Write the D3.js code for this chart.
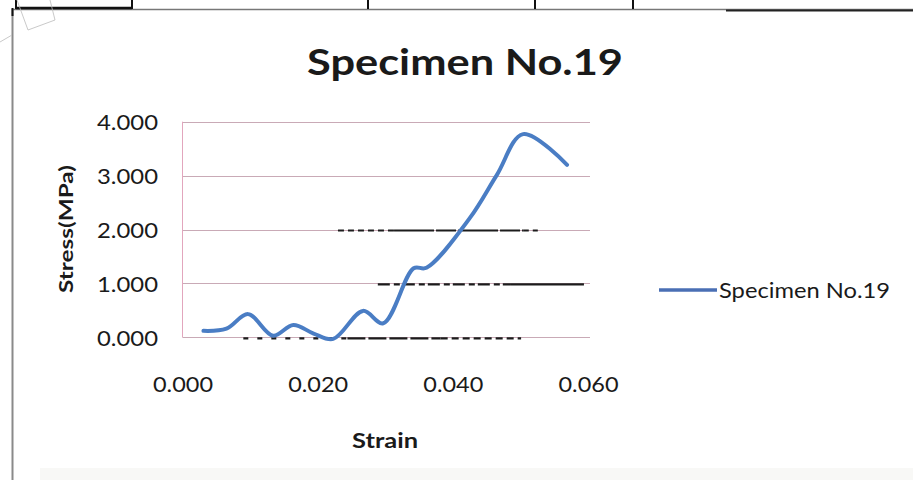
<!DOCTYPE html>
<html>
<head>
<meta charset="utf-8">
<title>Specimen No.19</title>
<script src="https://cdn.jsdelivr.net/npm/d3@7"></script>
<style>
  html, body { margin: 0; padding: 0; background: #fff; }
  svg { display: block; }
  text { font-family: Lato, "Open Sans", sans-serif; fill: #1a1a1a; }
</style>
</head>
<body>
<div id="chart"></div>
<script>
// Stress-strain curve
const strain = [0.0031, 0.0065, 0.0097, 0.0134, 0.0164, 0.0194, 0.0223, 0.0267, 0.0297, 0.0342, 0.0361, 0.0425, 0.0465, 0.0504, 0.0569];
const stress = [0.12, 0.16, 0.43, 0.03, 0.23, 0.07, -0.03, 0.49, 0.26, 1.28, 1.29, 2.21, 3.01, 3.77, 3.20];
const yTicks = [0, 1, 2, 3, 4];
const xTicks = [0, 0.02, 0.04, 0.06];
const seriesName = 'Specimen No.19';

// dark bleed-through streaks from the scan, [stress level, strain from, strain to, dash]
const scanStreaks = [
    [2, 0.0230, 0.0313, '6 4'], [2, 0.0313, 0.0505, '40 2 20 2'], [2, 0.0505, 0.0526, '5 4'],
    [1, 0.0289, 0.0486, '12 4 6 3'], [1, 0.0486, 0.0594, null],
    [0, 0.0090, 0.0244, '5 9'], [0, 0.0244, 0.0382, '18 3'], [0, 0.0382, 0.0501, '7 4']
];

const width = 913, height = 480;
const svg = d3.select('#chart').append('svg')
    .attr('width', width)
    .attr('height', height);

svg.append('rect').attr('width', width).attr('height', height).attr('fill', '#fff');

// page frame around the chart (table lines of the scanned page)
const frame = svg.append('g');
frame.append('rect').attr('x', 40).attr('y', 468).attr('width', 873).attr('height', 12).attr('fill', '#f8f8f6');
frame.append('line').attr('x1', 12).attr('x2', 913).attr('y1', 9.5).attr('y2', 9.5).attr('stroke', '#777').attr('stroke-width', 1.5);
frame.append('line').attr('x1', 16).attr('x2', 132).attr('y1', 8).attr('y2', 8).attr('stroke', '#111').attr('stroke-width', 2.5);
frame.append('line').attr('x1', 726).attr('x2', 913).attr('y1', 10.5).attr('y2', 10.5).attr('stroke', '#222').attr('stroke-width', 2);
[16, 132, 368, 535, 633].forEach(x => {
    frame.append('line').attr('x1', x).attr('x2', x).attr('y1', 0).attr('y2', 9)
        .attr('stroke', '#111').attr('stroke-width', 2);
});
frame.append('line').attr('x1', 12.5).attr('x2', 12.5).attr('y1', 9).attr('y2', 480).attr('stroke', '#8a8a8a').attr('stroke-width', 2);
frame.append('line').attr('x1', 12.5).attr('x2', 12.5).attr('y1', 8).attr('y2', 16).attr('stroke', '#111').attr('stroke-width', 2);
// faint watermark stamp in the corner
frame.append('path').attr('d', 'M17,0 L28,30 L55,20 L50,0 M0,42 L12,35')
    .attr('fill', 'none').attr('stroke', '#bbb').attr('stroke-width', 0.8);

// scales
const x = d3.scaleLinear().domain([0, 0.06]).range([182.5, 588]);
const y = d3.scaleLinear().domain([0, 4]).range([337.3, 121.7]);
const plotRight = 590;

// gridlines
const grid = svg.append('g');
grid.selectAll('line')
    .data(yTicks)
    .enter()
    .append('line')
    .attr('x1', x(0))
    .attr('x2', plotRight)
    .attr('y1', d => Math.round(y(d)) + 0.5)
    .attr('y2', d => Math.round(y(d)) + 0.5)
    .attr('stroke', '#c9aab6')
    .attr('stroke-width', 1);
grid.append('line')
    .attr('x1', x(0)).attr('x2', x(0))
    .attr('y1', y(4)).attr('y2', y(0))
    .attr('stroke', '#e2a6bd').attr('stroke-width', 1);

// scan streaks over the gridlines
svg.append('g').selectAll('line')
    .data(scanStreaks)
    .enter()
    .append('line')
    .attr('x1', d => x(d[1]))
    .attr('x2', d => x(d[2]))
    .attr('y1', d => y(d[0]) + 1)
    .attr('y2', d => y(d[0]) + 1)
    .attr('stroke', '#1c1c1c')
    .attr('stroke-width', 2.2)
    .attr('stroke-dasharray', d => d[3]);

// y axis labels
const yAxis = svg.append('g')
    .attr('transform', 'translate(158,0)')
    .call(d3.axisLeft(y).tickValues(yTicks).tickSize(0).tickPadding(0).tickFormat(d3.format('.3f')));
yAxis.select('.domain').remove();
yAxis.selectAll('text')
    .attr('font-family', 'Lato, sans-serif')
    .attr('font-size', 22)
    .attr('fill', '#1a1a1a')
    .attr('dy', '0.36em')
    .attr('textLength', 61)
    .attr('lengthAdjust', 'spacingAndGlyphs');

// x axis labels
const xAxis = svg.append('g')
    .attr('transform', 'translate(0,392)')
    .call(d3.axisBottom(x).tickValues(xTicks).tickSize(0).tickPadding(0).tickFormat(d3.format('.3f')));
xAxis.select('.domain').remove();
xAxis.selectAll('text')
    .attr('font-family', 'Lato, sans-serif')
    .attr('font-size', 22)
    .attr('fill', '#1a1a1a')
    .attr('y', 0)
    .attr('dy', 0)
    .attr('textLength', 60)
    .attr('lengthAdjust', 'spacingAndGlyphs');

// the curve
const pts = strain.map((s, i) => [s, stress[i]]);
const line = d3.line()
    .x(d => x(d[0]))
    .y(d => y(d[1]))
    .curve(d3.curveCatmullRom.alpha(0.5));
svg.append('path')
    .datum(pts)
    .attr('d', line)
    .attr('fill', 'none')
    .attr('stroke', '#4a7dc4')
    .attr('stroke-width', 4)
    .attr('stroke-linecap', 'round')
    .attr('stroke-linejoin', 'round');

// title
svg.append('text')
    .attr('x', 465).attr('y', 75)
    .attr('text-anchor', 'middle')
    .attr('font-size', 37)
    .attr('font-weight', 'bold')
    .attr('textLength', 316)
    .attr('lengthAdjust', 'spacingAndGlyphs')
    .text(seriesName);

// axis titles
svg.append('text')
    .attr('transform', 'translate(73,229) rotate(-90)')
    .attr('text-anchor', 'middle')
    .attr('font-size', 19)
    .attr('font-weight', 'bold')
    .attr('textLength', 128)
    .attr('lengthAdjust', 'spacingAndGlyphs')
    .text('Stress(MPa)');

svg.append('text')
    .attr('x', 385).attr('y', 448)
    .attr('text-anchor', 'middle')
    .attr('font-size', 20)
    .attr('font-weight', 'bold')
    .attr('textLength', 66)
    .attr('lengthAdjust', 'spacingAndGlyphs')
    .text('Strain');

// legend
const legend = svg.append('g').attr('transform', 'translate(659,290)');
legend.append('line')
    .attr('x1', 0).attr('x2', 58).attr('y1', 0).attr('y2', 0)
    .attr('stroke', '#4a6fb4').attr('stroke-width', 3.5);
legend.append('text')
    .attr('x', 60).attr('y', 8)
    .attr('font-size', 22)
    .attr('textLength', 171)
    .attr('lengthAdjust', 'spacingAndGlyphs')
    .text(seriesName);
</script>
</body>
</html>
